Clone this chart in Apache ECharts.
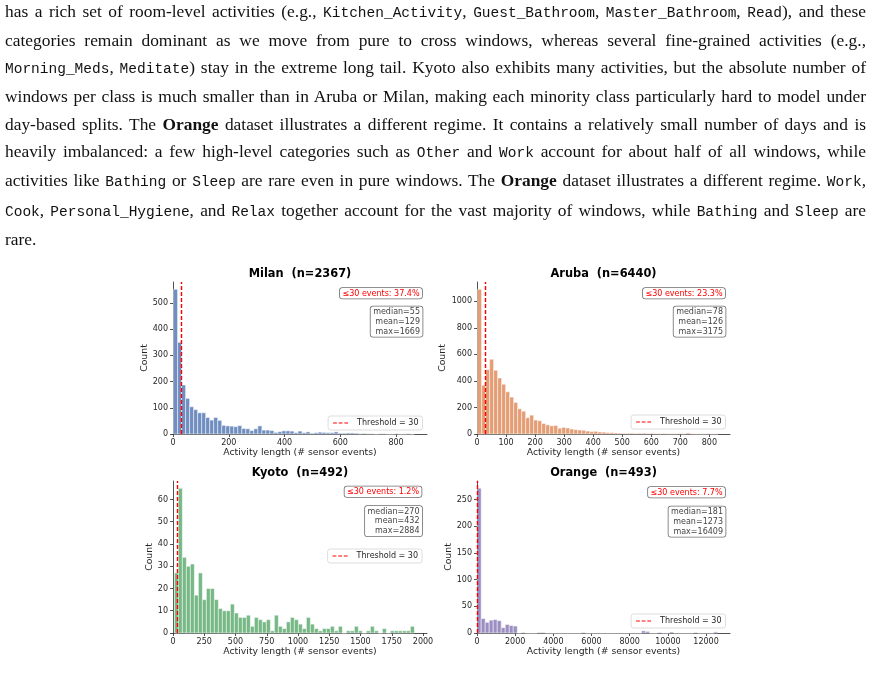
<!DOCTYPE html>
<html>
<head>
<meta charset="utf-8">
<script src="https://cdn.jsdelivr.net/npm/echarts@6/dist/echarts.min.js"></script>
<style>
    html, body { margin: 0; padding: 0; background: #fff; }
    #page { position: relative; width: 872px; height: 690px; overflow: hidden; }
    #text {
        position: absolute; left: 5px; top: -2.5px; width: 861px; z-index: 2;
        font-family: "Liberation Serif", serif; font-size: 17.4px; line-height: 27.3px; color: #111;
    }
    #text .ln { text-align: justify; text-align-last: justify; }
    #text .ln.last { text-align-last: left; }
    #text code { font-family: "Liberation Mono", monospace; font-size: 14.5px; letter-spacing: 0; }
    #chart { position: absolute; left: 0; top: 0; width: 872px; height: 690px; }
</style>
</head>
<body>
<div id="page">
    <div id="text">
        <div class="ln">has a rich set of room-level activities (e.g., <code>Kitchen_Activity</code>, <code>Guest_Bathroom</code>, <code>Master_Bathroom</code>, <code>Read</code>), and these</div>
        <div class="ln">categories remain dominant as we move from pure to cross windows, whereas several fine-grained activities (e.g.,</div>
        <div class="ln"><code>Morning_Meds</code>, <code>Meditate</code>) stay in the extreme long tail. Kyoto also exhibits many activities, but the absolute number of</div>
        <div class="ln">windows per class is much smaller than in Aruba or Milan, making each minority class particularly hard to model under</div>
        <div class="ln">day-based splits. The <b>Orange</b> dataset illustrates a different regime. It contains a relatively small number of days and is</div>
        <div class="ln">heavily imbalanced: a few high-level categories such as <code>Other</code> and <code>Work</code> account for about half of all windows, while</div>
        <div class="ln">activities like <code>Bathing</code> or <code>Sleep</code> are rare even in pure windows. The <b>Orange</b> dataset illustrates a different regime. <code>Work</code>,</div>
        <div class="ln"><code>Cook</code>, <code>Personal_Hygiene</code>, and <code>Relax</code> together account for the vast majority of windows, while <code>Bathing</code> and <code>Sleep</code> are</div>
        <div class="ln last">rare.</div>
    </div>
    <div id="chart"></div>
</div>
<script>
    // 直方图数据（每个数据集 60 个分箱）
    var THRESHOLD = 30;

    var milanCounts = [552, 350, 187, 136, 104, 93, 81, 81, 63, 53, 63, 52, 33, 31, 30, 28, 32, 21, 20, 13,
        20, 31, 15, 15, 13, 6, 9, 12, 12, 11, 5, 11, 5, 8, 3, 5, 7, 6, 5, 5,
        8, 3, 3, 4, 4, 3, 1, 2, 1, 1, 0, 1, 1, 0, 0, 1, 0, 0, 1, 0];
    var milanBinStart = 2, milanBinWidth = 14.4;
    var milanXTicks = [0, 200, 400, 600, 800];
    var milanYTicks = [0, 100, 200, 300, 400, 500];

    var arubaCounts = [1090, 368, 485, 563, 480, 422, 375, 318, 278, 238, 190, 172, 123, 142, 105, 100, 79, 69, 62, 64,
        44, 50, 45, 38, 33, 30, 28, 22, 18, 20, 15, 14, 10, 10, 8, 6, 5, 5, 6, 4,
        6, 6, 4, 5, 3, 2, 3, 2, 2, 2, 3, 2, 8, 2, 1, 1, 1, 2, 1, 1];
    var arubaBinStart = 2, arubaBinWidth = 13.8;
    var arubaXTicks = [0, 100, 200, 300, 400, 500, 600, 700, 800];
    var arubaYTicks = [0, 200, 400, 600, 800, 1000];

    var kyotoCounts = [27, 65, 34, 30, 31, 17, 27, 15, 20, 20, 15, 11, 10, 10, 13, 9, 7, 7, 8, 3,
        7, 6, 5, 6, 1, 8, 3, 2, 5, 7, 6, 4, 2, 7, 4, 2, 1, 2, 2, 3,
        1, 3, 0, 1, 1, 3, 1, 0, 1, 3, 1, 0, 2, 0, 1, 1, 1, 1, 1, 3];
    var kyotoBinStart = 11, kyotoBinWidth = 32;
    var kyotoXTicks = [0, 250, 500, 750, 1000, 1250, 1500, 1750, 2000];
    var kyotoYTicks = [0, 10, 20, 30, 40, 50, 60];

    var orangeCounts = [271, 27, 20, 24, 25, 23, 10, 16, 14, 13, 0, 1, 0, 0, 0, 1, 1, 0, 0, 0,
        0, 0, 0, 0, 0, 0, 1, 0, 0, 0, 0, 0, 0, 0, 0, 0, 0, 0, 0, 0,
        0, 4, 3, 0, 0, 1, 0, 0, 2, 0, 0, 0, 0, 0, 1, 0, 0, 0, 0, 2];
    var orangeBinStart = 10, orangeBinWidth = 210;
    var orangeXTicks = [0, 2000, 4000, 6000, 8000, 10000, 12000];
    var orangeYTicks = [0, 50, 100, 150, 200, 250];

    var titles = ["Milan  (n=2367)", "Aruba  (n=6440)", "Kyoto  (n=492)", "Orange  (n=493)"];
    var shortShare = ["≤30 events: 37.4%", "≤30 events: 23.3%", "≤30 events: 1.2%", "≤30 events: 7.7%"];
    var statsText = ["median=55\nmean=129\nmax=1669", "median=78\nmean=126\nmax=3175",
        "median=270\nmean=432\nmax=2884", "median=181\nmean=1273\nmax=16409"];

    var FONT = "DejaVu Sans";
    var INK = "#262626";

    // 把计数转换成 [左边界, 右边界, 计数]
    function toBins(counts, start, width) {
        return counts.map(function (c, i) {
            return [start + i * width, start + (i + 1) * width, c];
        });
    }

    //面板布局
    var panels = [
        {bins: toBins(milanCounts, milanBinStart, milanBinWidth), color: "rgba(76,114,176,0.8)",
            xMax: 911, yMax: 580, xTicks: milanXTicks, yTicks: milanYTicks,
            grid: {left: 173, top: 282, width: 254, height: 152}, yGap: 23,
            legendTop: 416, annotTop: 288, statsTop: 306.5, boxRight: 422.5},
        {bins: toBins(arubaCounts, arubaBinStart, arubaBinWidth), color: "rgba(221,132,82,0.8)",
            xMax: 871, yMax: 1145, xTicks: arubaXTicks, yTicks: arubaYTicks,
            grid: {left: 477, top: 282, width: 253, height: 152}, yGap: 30,
            legendTop: 415, annotTop: 288, statsTop: 306.5, boxRight: 725.5},
        {bins: toBins(kyotoCounts, kyotoBinStart, kyotoBinWidth), color: "rgba(85,168,104,0.8)",
            xMax: 2032, yMax: 68.3, xTicks: kyotoXTicks, yTicks: kyotoYTicks,
            grid: {left: 173, top: 481, width: 254, height: 152}, yGap: 19,
            legendTop: 549, annotTop: 486.5, statsTop: 506, boxRight: 422},
        {bins: toBins(orangeCounts, orangeBinStart, orangeBinWidth), color: "rgba(129,114,179,0.8)",
            xMax: 13255, yMax: 284.5, xTicks: orangeXTicks, yTicks: orangeYTicks,
            grid: {left: 477, top: 481, width: 253, height: 152}, yGap: 23,
            legendTop: 614, annotTop: 487, statsTop: 506.5, boxRight: 725.5}
    ];

    function histItem(color) {
        return function (params, api) {
            var p0 = api.coord([api.value(0), api.value(2)]);
            var p1 = api.coord([api.value(1), 0]);
            return {
                type: "rect",
                shape: {x: p0[0], y: p0[1], width: p1[0] - p0[0], height: p1[1] - p0[1]},
                style: {fill: color, stroke: "#fff", lineWidth: 0.5}
            };
        };
    }

    function plainNumber(v) {
        return String(v);
    }

    var grids = [], xAxes = [], yAxes = [], series = [], legends = [], graphics = [];

    panels.forEach(function (p, i) {
        grids.push(p.grid);
        xAxes.push({
            gridIndex: i, type: "value", min: 0, max: p.xMax,
            name: "Activity length (# sensor events)", nameLocation: "middle", nameGap: 13,
            nameTextStyle: {fontFamily: FONT, fontSize: 9.3, color: INK},
            axisLine: {show: true, onZero: false, lineStyle: {color: INK, width: 0.8}},
            axisTick: {show: true, length: 3, customValues: p.xTicks, lineStyle: {color: INK, width: 0.8}},
            axisLabel: {customValues: p.xTicks, formatter: plainNumber, fontFamily: FONT, fontSize: 8, color: INK, margin: 5},
            splitLine: {show: false}
        });
        yAxes.push({
            gridIndex: i, type: "value", min: 0, max: p.yMax,
            name: "Count", nameLocation: "middle", nameGap: p.yGap,
            nameTextStyle: {fontFamily: FONT, fontSize: 9.3, color: INK},
            axisLine: {show: true, lineStyle: {color: INK, width: 0.8}},
            axisTick: {show: true, length: 3, customValues: p.yTicks, lineStyle: {color: INK, width: 0.8}},
            axisLabel: {customValues: p.yTicks, formatter: plainNumber, fontFamily: FONT, fontSize: 8, color: INK, margin: 5},
            splitLine: {show: false}
        });
        series.push({
            type: "custom", xAxisIndex: i, yAxisIndex: i, silent: true,
            renderItem: histItem(p.color),
            encode: {x: [0, 1], y: 2},
            data: p.bins
        });
        //阈值线
        series.push({
            type: "line", name: "Threshold = 30", xAxisIndex: i, yAxisIndex: i,
            data: [], symbol: "none",
            itemStyle: {color: "#f00"},
            lineStyle: {color: "#f00", type: [4, 2], width: 1.2},
            markLine: {
                silent: true, symbol: "none", label: {show: false},
                lineStyle: {color: "#f00", type: [4, 2], width: 1.4},
                data: [{xAxis: THRESHOLD}]
            }
        });
        legends.push({
            data: [{name: "Threshold = 30", icon: "path://M0,0h4v1h-4z M6,0h4v1h-4z M12,0h4v1h-4z"}],
            selectedMode: false,
            right: 872 - p.boxRight, top: p.legendTop,
            itemWidth: 15, itemHeight: 1.3, itemGap: 4,
            padding: [3, 4, 3, 5],
            backgroundColor: "#fff", borderColor: "#d4d4d4", borderWidth: 0.8, borderRadius: 2.5,
            textStyle: {fontFamily: FONT, fontSize: 8, color: INK, padding: [0, 0, 0, 4]}
        });
        var cx = p.grid.left + p.grid.width / 2;
        graphics.push({
            type: "text", x: cx, y: p.grid.top - 8,
            style: {text: titles[i], align: "center", verticalAlign: "middle",
                font: "bold 11.4px " + FONT, fill: "#000"}
        });
        graphics.push({
            type: "text", x: p.boxRight - 0.5, y: p.annotTop,
            style: {text: shortShare[i], align: "right", verticalAlign: "top",
                font: "8px " + FONT, fill: "#f00",
                backgroundColor: "#fff", borderColor: "#6e6e6e", borderWidth: 0.8, borderRadius: 2.5,
                padding: [1.5, 2.5, 1, 2.5]}
        });
        graphics.push({
            type: "text", x: p.boxRight, y: p.statsTop,
            style: {text: statsText[i], align: "right", verticalAlign: "top",
                font: "8px " + FONT, fill: "#444", lineHeight: 9.6,
                backgroundColor: "#fff", borderColor: "#6e6e6e", borderWidth: 0.8, borderRadius: 2.5,
                padding: [1, 2.5, 0.5, 2.5]}
        });
    });

    var myChart = echarts.init(document.getElementById("chart"));
    myChart.setOption({
        animation: false,
        textStyle: {fontFamily: FONT},
        grid: grids,
        xAxis: xAxes,
        yAxis: yAxes,
        legend: legends,
        series: series,
        graphic: graphics
    });
</script>
</body>
</html>
